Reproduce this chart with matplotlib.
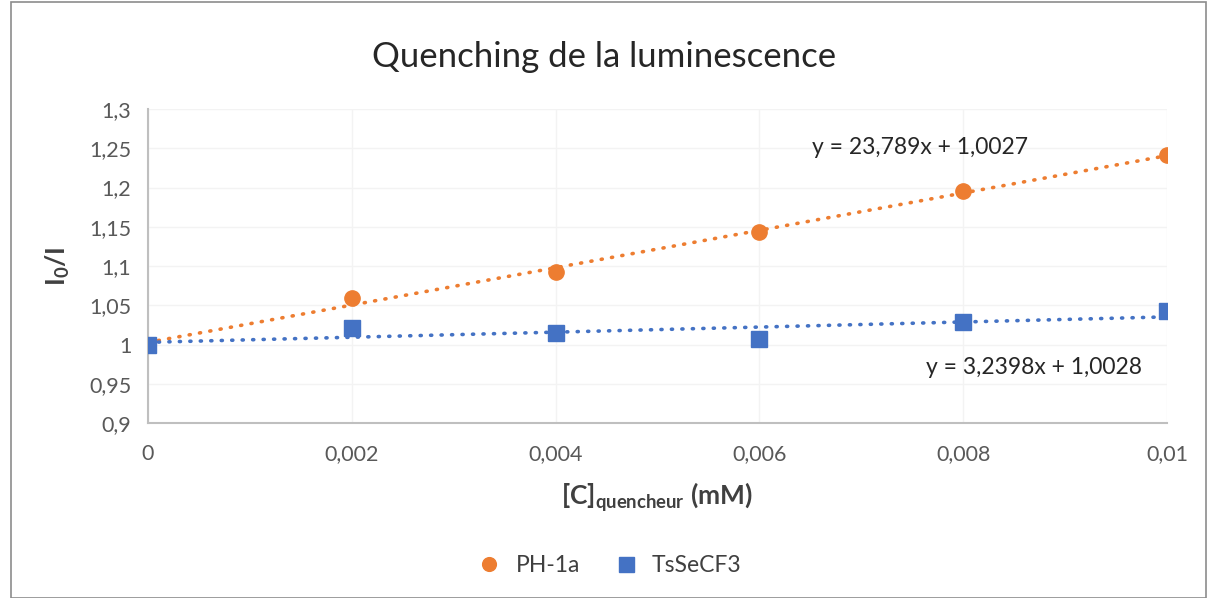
import numpy as np
import matplotlib
matplotlib.use("Agg")
import matplotlib.pyplot as plt
from matplotlib.patches import Rectangle

# ---- data ----
conc = [0, 0.002, 0.004, 0.006, 0.008, 0.01]
ph1a = [1.0, 1.059, 1.092, 1.143, 1.196, 1.241]
tssecf3 = [1.0, 1.021, 1.015, 1.007, 1.029, 1.043]

fit_ph1a = (23.789, 1.0027)
fit_tssecf3 = (3.2398, 1.0028)

x_ticks = [0, 0.002, 0.004, 0.006, 0.008, 0.01]
x_labels = ["0", "0,002", "0,004", "0,006", "0,008", "0,01"]
y_ticks = [0.9, 0.95, 1.0, 1.05, 1.1, 1.15, 1.2, 1.25, 1.3]
y_labels = ["0,9", "0,95", "1", "1,05", "1,1", "1,15", "1,2", "1,25", "1,3"]

ORANGE = "#ED7D31"
BLUE = "#4472C4"
GREY = "#595959"

plt.rcParams["font.family"] = ["Lato", "DejaVu Sans"]
plt.rcParams["mathtext.fontset"] = "custom"
plt.rcParams["mathtext.rm"] = "Lato"
plt.rcParams["mathtext.bf"] = "Lato:bold"

fig = plt.figure(figsize=(12.08, 5.98), dpi=100)
ax = fig.add_axes([0.1225, 0.2926, 0.8435, 0.5251])

# cadre du graphique
fig.patches.append(Rectangle((0.009, 0.0), 0.989, 0.997, transform=fig.transFigure,
                             fill=False, edgecolor="#8C8C8C", linewidth=1.2))

xs = np.array([0, 0.01])
ax.plot(xs, fit_ph1a[0] * xs + fit_ph1a[1], color=ORANGE, lw=2.6,
        linestyle=(0, (0.3, 2.6)), dash_capstyle="round", zorder=2)
ax.plot(xs, fit_tssecf3[0] * xs + fit_tssecf3[1], color=BLUE, lw=2.6,
        linestyle=(0, (0.3, 2.6)), dash_capstyle="round", zorder=2)

ax.plot(conc, ph1a, "o", color=ORANGE, markersize=11, label="PH-1a", zorder=3)
ax.plot(conc, tssecf3, "s", color=BLUE, markersize=12, label="TsSeCF3", zorder=3)

ax.set_xlim(0, 0.01)
ax.set_ylim(0.9, 1.3)
ax.set_xticks(x_ticks)
ax.set_xticklabels(x_labels)
ax.set_yticks(y_ticks)
ax.set_yticklabels(y_labels)
ax.tick_params(length=0, labelsize=15.5, labelcolor=GREY, pad=12)
ax.tick_params(axis="x", pad=15)
ax.grid(True, color="#F3F3F3", linewidth=1)
ax.set_axisbelow(True)
for s in ["top", "right"]:
    ax.spines[s].set_visible(False)
for s in ["left", "bottom"]:
    ax.spines[s].set_color("#BFBFBF")
    ax.spines[s].set_linewidth(1.5)

ax.text(0.00758, 1.2516, "y = 23,789x + 1,0027", fontsize=16.5, color="#262626",
        ha="center", va="center")
ax.text(0.0087, 0.971, "y = 3,2398x + 1,0028", fontsize=16.5, color="#262626",
        ha="center", va="center")

ax.set_xlabel(r"$\mathbf{[C]_{quencheur}}$ $\mathbf{(mM)}$", fontsize=19,
              color="#404040", labelpad=12)
ax.set_ylabel(r"$\mathbf{I_0/I}$", fontsize=19, color="#404040", labelpad=12)

fig.text(0.5, 0.905, "Quenching de la luminescence", fontsize=25, color="#262626",
         ha="center", va="center")

fig.legend(loc="center", bbox_to_anchor=(0.5, 0.055), ncol=2, frameon=False,
           fontsize=16.5, handletextpad=0.15, columnspacing=1.0, markerscale=0.9,
           labelcolor="#404040")

plt.savefig("out.png", dpi=100)
